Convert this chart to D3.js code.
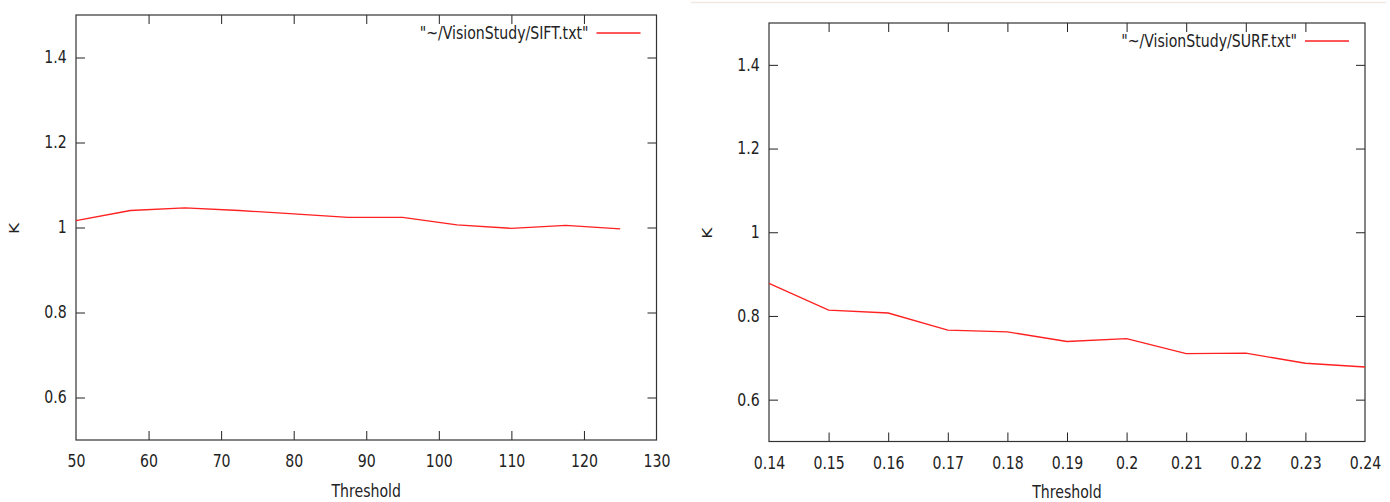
<!DOCTYPE html>
<html>
<head>
<meta charset="utf-8">
<script src="https://cdn.jsdelivr.net/npm/d3@7"></script>
<style>
  body { margin: 0; background: #fff; }
  text { font-family: "DejaVu Sans", sans-serif; font-size: 17px; fill: #222; }
</style>
</head>
<body>
<svg id="chart"></svg>
<script>
// values
var siftThreshold = [50, 57.5, 65, 72.5, 80, 87.5, 95, 102.5, 110, 117.5, 125];
var siftK = [1.016, 1.040, 1.046, 1.040, 1.032, 1.024, 1.024, 1.006, 0.998, 1.005, 0.997];
var siftTicks = [50, 60, 70, 80, 90, 100, 110, 120, 130];

var surfThreshold = [0.14, 0.15, 0.16, 0.17, 0.18, 0.19, 0.2, 0.21, 0.22, 0.23, 0.24];
var surfK = [0.878, 0.814, 0.807, 0.766, 0.762, 0.739, 0.746, 0.710, 0.711, 0.687, 0.678];
var surfTicks = [0.14, 0.15, 0.16, 0.17, 0.18, 0.19, 0.2, 0.21, 0.22, 0.23, 0.24];

var kTicks = [0.6, 0.8, 1, 1.2, 1.4];
var kDomain = [0.5, 1.5];

var svgWidth = 1390, svgHeight = 502;
var squish = "scale(0.83,1)"; // the screenshot text is narrow

var svg = d3.select("#chart")
  .attr("width", svgWidth)
  .attr("height", svgHeight);

// faint separator line above the second plot
svg.append("line")
  .attr("x1", 691).attr("x2", 1386)
  .attr("y1", 2.5).attr("y2", 2.5)
  .attr("stroke", "#f1e9e1")
  .attr("stroke-width", 1.5);

function drawPlot(opt){
  var left = opt.box[0], top = opt.box[1], right = opt.box[2], bottom = opt.box[3];

  var x = d3.scaleLinear().domain(opt.xDomain).range([left, right]);
  var y = d3.scaleLinear().domain(kDomain).range([bottom, top]);

  var g = svg.append("g");

  // bottom axis with labels, ticks pointing in
  var xAxis = g.append("g")
    .attr("transform", `translate(0,${bottom})`)
    .call(d3.axisBottom(x).tickValues(opt.xTicks).tickSizeInner(-9).tickSizeOuter(0).tickPadding(15).tickFormat(d => String(d)));

  // top mirror ticks
  var xTop = g.append("g")
    .attr("transform", `translate(0,${top})`)
    .call(d3.axisTop(x).tickValues(opt.xTicks.slice(1, -1)).tickSizeInner(-9).tickSizeOuter(0).tickFormat(""));

  var yAxis = g.append("g")
    .attr("transform", `translate(${left},0)`)
    .call(d3.axisLeft(y).tickValues(kTicks).tickSizeInner(-9).tickSizeOuter(0).tickPadding(11.2).tickFormat(d => String(d)));

  var yRight = g.append("g")
    .attr("transform", `translate(${right},0)`)
    .call(d3.axisRight(y).tickValues(kTicks).tickSizeInner(-9).tickSizeOuter(0).tickFormat(""));

  g.selectAll(".domain").remove();
  g.selectAll(".tick line").attr("stroke", "#222");
  g.selectAll(".tick text")
    .attr("transform", squish)
    .style("font-size", "17px")
    .style("font-family", "DejaVu Sans, sans-serif")
    .attr("fill", "#222");
  // first/last bottom ticks sit on the frame corners
  xAxis.selectAll(".tick line").filter((d, i) => i == 0 || i == opt.xTicks.length - 1).remove();

  // frame
  g.append("rect")
    .attr("x", left).attr("y", top)
    .attr("width", right - left).attr("height", bottom - top)
    .attr("fill", "none")
    .attr("stroke", "#333")
    .attr("stroke-width", 1.2);

  var line = d3.line()
    .x((d, i) => x(opt.xs[i]))
    .y(d => y(d));

  g.append("path")
    .datum(opt.ys)
    .attr("fill", "none")
    .attr("stroke", "#ff2020")
    .attr("stroke-width", 1.3)
    .attr("d", line);

  // legend, right aligned text then a sample line
  g.append("text")
    .attr("transform", `translate(${opt.legend[0]},${opt.legend[1]}) ${squish}`)
    .attr("text-anchor", "end")
    .attr("dy", "0.35em")
    .text(opt.name);

  g.append("line")
    .attr("x1", opt.legend[0] + 8).attr("x2", opt.legend[0] + 52)
    .attr("y1", opt.legend[1]).attr("y2", opt.legend[1])
    .attr("stroke", "#ff2020")
    .attr("stroke-width", 1.3);

  // axis titles
  g.append("text")
    .attr("transform", `translate(${(left + right) / 2},${bottom + 56.5}) ${squish}`)
    .attr("text-anchor", "middle")
    .text("Threshold");

  g.append("text")
    .attr("transform", `translate(${left - 62},${(top + bottom) / 2 + 1}) rotate(-90) scale(1,0.83)`)
    .attr("text-anchor", "middle")
    .attr("dy", "0.35em")
    .text("K");
}

drawPlot({
  box: [76, 15, 656.5, 440],
  xDomain: [50, 130],
  xTicks: siftTicks,
  xs: siftThreshold,
  ys: siftK,
  name: "\"~/VisionStudy/SIFT.txt\"",
  legend: [588.5, 33]
});

drawPlot({
  box: [769, 23, 1365, 441.5],
  xDomain: [0.14, 0.24],
  xTicks: surfTicks,
  xs: surfThreshold,
  ys: surfK,
  name: "\"~/VisionStudy/SURF.txt\"",
  legend: [1297, 41]
});
</script>
</body>
</html>
